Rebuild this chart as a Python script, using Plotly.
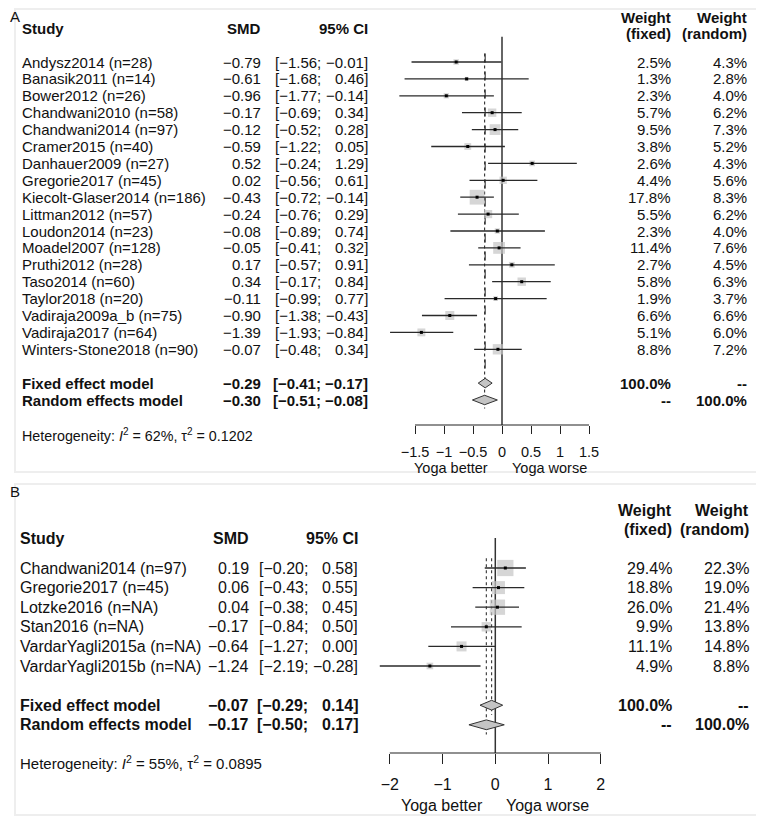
import math
import plotly.graph_objects as go

W, H = 764, 818
OFF = 8  # the page body margin shifts the figure by this much
FONT = "Liberation Sans, Arial, sans-serif"

# ---------------- panel A data ----------------
studies_a = ["Andysz2014 (n=28)", "Banasik2011 (n=14)", "Bower2012 (n=26)",
             "Chandwani2010 (n=58)", "Chandwani2014 (n=97)", "Cramer2015 (n=40)",
             "Danhauer2009 (n=27)", "Gregorie2017 (n=45)", "Kiecolt-Glaser2014 (n=186)",
             "Littman2012 (n=57)", "Loudon2014 (n=23)", "Moadel2007 (n=128)",
             "Pruthi2012 (n=28)", "Taso2014 (n=60)", "Taylor2018 (n=20)",
             "Vadiraja2009a_b (n=75)", "Vadiraja2017 (n=64)", "Winters-Stone2018 (n=90)"]
smd_a = [-0.79, -0.61, -0.96, -0.17, -0.12, -0.59, 0.52, 0.02, -0.43,
         -0.24, -0.08, -0.05, 0.17, 0.34, -0.11, -0.90, -1.39, -0.07]
lo_a = [-1.56, -1.68, -1.77, -0.69, -0.52, -1.22, -0.24, -0.56, -0.72,
        -0.76, -0.89, -0.41, -0.57, -0.17, -0.99, -1.38, -1.93, -0.48]
hi_a = [-0.01, 0.46, -0.14, 0.34, 0.28, 0.05, 1.29, 0.61, -0.14,
        0.29, 0.74, 0.32, 0.91, 0.84, 0.77, -0.43, -0.84, 0.34]
wfix_a = [2.5, 1.3, 2.3, 5.7, 9.5, 3.8, 2.6, 4.4, 17.8, 5.5, 2.3, 11.4, 2.7, 5.8, 1.9, 6.6, 5.1, 8.8]
wran_a = [4.3, 2.8, 4.0, 6.2, 7.3, 5.2, 4.3, 5.6, 8.3, 6.2, 4.0, 7.6, 4.5, 6.3, 3.7, 6.6, 6.0, 7.2]
pooled_est_a = [-0.29, -0.30]
pooled_lo_a = [-0.41, -0.51]
pooled_hi_a = [-0.17, -0.08]
i2_a, tau2_a = 62, 0.1202
ticks_a = [-1.5, -1, -0.5, 0, 0.5, 1, 1.5]

# ---------------- panel B data ----------------
studies_b = ["Chandwani2014 (n=97)", "Gregorie2017 (n=45)", "Lotzke2016 (n=NA)",
             "Stan2016 (n=NA)", "VardarYagli2015a (n=NA)", "VardarYagli2015b (n=NA)"]
smd_b = [0.19, 0.06, 0.04, -0.17, -0.64, -1.24]
lo_b = [-0.20, -0.43, -0.38, -0.84, -1.27, -2.19]
hi_b = [0.58, 0.55, 0.45, 0.50, 0.00, -0.28]
wfix_b = [29.4, 18.8, 26.0, 9.9, 11.1, 4.9]
wran_b = [22.3, 19.0, 21.4, 13.8, 14.8, 8.8]
pooled_est_b = [-0.07, -0.17]
pooled_lo_b = [-0.29, -0.50]
pooled_hi_b = [0.14, 0.17]
i2_b, tau2_b = 55, 0.0895
ticks_b = [-2, -1, 0, 1, 2]

pooled_labels = ["Fixed effect model", "Random effects model"]


def num(v, d=2):
    return f"{v:.{d}f}".replace("-", "\u2212")


def X(px):
    return (px - OFF) / W


def Y(py):
    return 1 - (py - OFF) / H


fig = go.Figure()
annotations = []
shapes = []


def panel(ax, data, cfg):
    studies, smd, lo, hi, wf, wr, pe, plo, phi, i2, tau2, ticks = data
    xa = "x" if ax == 1 else f"x{ax}"
    ya = "y" if ax == 1 else f"y{ax}"
    sfx = "" if ax == 1 else str(ax)
    r0, dr = cfg["row0"], cfg["drow"]
    x0, ux = cfg["x0"], cfg["ux"]
    fs = cfg["fs"]
    n = len(studies)
    rows = list(range(n))
    prow = [n + 1, n + 2]

    def row(py):
        return (py - r0) / dr

    ytop, ybot = cfg["ydom"]
    xl, xr = cfg["xdom"]
    axis_px = cfg["axis_px"]
    fig.layout[f"yaxis{sfx}"] = dict(
        domain=[Y(ybot), Y(ytop)], range=[row(ybot), row(ytop)],
        visible=False, fixedrange=True)
    fig.layout[f"xaxis{sfx}"] = dict(
        domain=[X(xl), X(xr)], range=[(xl - x0) / ux, (xr - x0) / ux],
        anchor="free", position=Y(axis_px), showgrid=False, zeroline=False, showline=False,
        tickvals=ticks,
        ticktext=[num(t, 0) if float(t).is_integer() else num(t, 1) for t in ticks],
        ticks="outside", ticklen=cfg["ticklen"], tickcolor="#222", tickwidth=1,
        ticklabelstandoff=cfg["standoff"],
        tickfont=dict(family=FONT, size=cfg["tickfs"], color="#111"), fixedrange=True)

    # axis line, no-effect line and pooled-effect lines
    shapes.append(dict(type="line", xref=xa, yref="paper", x0=ticks[0], x1=ticks[-1],
                       y0=Y(axis_px), y1=Y(axis_px), line=dict(color="#222", width=1.2)))
    fig.add_trace(go.Scatter(x=[0, 0], y=[cfg["zero_top"], row(axis_px)], xaxis=xa, yaxis=ya,
                             mode="lines", line=dict(color="#333", width=1.5), hoverinfo="skip"))
    for k, p in enumerate(pe):
        fig.add_trace(go.Scatter(x=[p, p], y=[-0.5, prow[k] + 0.5], xaxis=xa, yaxis=ya,
                                 mode="lines", line=dict(color="#333", width=1.1, dash=cfg["dash"][k]),
                                 hoverinfo="skip"))

    # squares, CI lines, dots
    fig.add_trace(go.Scatter(x=smd, y=rows, xaxis=xa, yaxis=ya, mode="markers",
                             marker=dict(symbol="square", color="#c4c4c4",
                                         size=[cfg["sq"] * math.sqrt(w) for w in wf],
                                         line=dict(width=0)), hoverinfo="skip"))
    lx, ly = [], []
    for r, a, b in zip(rows, lo, hi):
        lx += [a, b, None]
        ly += [r, r, None]
    fig.add_trace(go.Scatter(x=lx, y=ly, xaxis=xa, yaxis=ya, mode="lines",
                             line=dict(color="#2a2a2a", width=1.3), hoverinfo="skip"))
    fig.add_trace(go.Scatter(x=smd, y=rows, xaxis=xa, yaxis=ya, mode="markers",
                             marker=dict(symbol="square", color="#000", size=3), hoverinfo="skip"))

    # diamonds
    hh = cfg["dh"]
    for r, p, a, b in zip(prow, pe, plo, phi):
        fig.add_trace(go.Scatter(x=[a, p, b, p, a], y=[r, r - hh, r, r + hh, r], xaxis=xa, yaxis=ya,
                                 mode="lines", fill="toself", fillcolor="#c4c4c4",
                                 line=dict(color="#333", width=1), hoverinfo="skip"))

    def txt(x, y, s, anchor="left", bold=False, size=fs):
        if bold:
            s = f"<b>{s}</b>"
        annotations.append(dict(x=X(x), y=y, xref="paper", yref=ya, text=s, showarrow=False,
                                xanchor=anchor, yanchor="middle",
                                font=dict(family=FONT, size=size, color="#111")))

    cx = cfg["cols"]
    # headers
    txt(cx["study"], cfg["head_row"], "Study", bold=True)
    txt(cx["smd"], cfg["head_row"], "SMD", "right", bold=True)
    txt(cx["cihi"], cfg["head_row"], "95% CI", "right", bold=True)
    txt(cx["wf"], row(cfg["w_px1"]), "Weight", "right", bold=True)
    txt(cx["wf"], row(cfg["w_px2"]), "(fixed)", "right", bold=True)
    txt(cx["wr"], row(cfg["w_px1"]), "Weight", "right", bold=True)
    txt(cx["wr"], row(cfg["w_px2"]), "(random)", "right", bold=True)

    for r, s, m, a, b, f, q in zip(rows, studies, smd, lo, hi, wf, wr):
        txt(cx["study"], r, s)
        txt(cx["smd"], r, num(m), "right")
        txt(cx["cilo"], r, f"[{num(a)};", "right")
        txt(cx["cihi"], r, f"{num(b)}]", "right")
        txt(cx["wf"], r, f"{f:.1f}%", "right")
        txt(cx["wr"], r, f"{q:.1f}%", "right")

    wlab = [("100.0%", "--"), ("--", "100.0%")]
    for k, r in enumerate(prow):
        txt(cx["study"], r, pooled_labels[k], bold=True)
        txt(cx["smd"], r, num(pe[k]), "right", bold=True)
        txt(cx["cilo"], r, f"[{num(plo[k])};", "right", bold=True)
        txt(cx["cihi"], r, f"{num(phi[k])}]", "right", bold=True)
        txt(cx["wf"], r, wlab[k][0], "right", bold=True)
        txt(cx["wr"], r, wlab[k][1], "right", bold=True)

    txt(cx["study"], row(cfg["het_px"]),
        f"Heterogeneity: <i>I</i><sup>2</sup> = {i2}%, \u03c4<sup>2</sup> = {tau2}",
        size=cfg["hetfs"])

    # direction labels under the axis
    lab_y = row(cfg["lab_px"])
    annotations.append(dict(x=cfg["lab_l"], y=lab_y, xref=xa, yref=ya, text="Yoga better",
                            showarrow=False, xanchor="right", yanchor="middle",
                            font=dict(family=FONT, size=cfg["tickfs"], color="#111")))
    annotations.append(dict(x=cfg["lab_r"], y=lab_y, xref=xa, yref=ya, text="Yoga worse",
                            showarrow=False, xanchor="left", yanchor="middle",
                            font=dict(family=FONT, size=cfg["tickfs"], color="#111")))


cfg_a = dict(row0=62, drow=16.9, x0=502, ux=58, fs=15, ydom=(8, 478), xdom=(375, 620),
             axis_px=425, ticklen=8, standoff=6, tickfs=14.5, zero_top=-1.5, sq=3.5, dh=0.28,
             dash=["dash", "dot"],
             cols=dict(study=20, smd=263, cilo=323, cihi=370, wf=673, wr=749),
             head_row=-2, w_px1=17, w_px2=33,
             het_px=435, hetfs=14.3, lab_px=468, lab_l=-0.2, lab_r=0.14)
cfg_b = dict(row0=568, drow=19.6, x0=495.3, ux=52.75, fs=16, ydom=(484, 818), xdom=(375, 620),
             axis_px=753, ticklen=10, standoff=7, tickfs=16, zero_top=-1.53, sq=3.0, dh=0.25,
             dash=["dot", "dot"],
             cols=dict(study=18, smd=251, cilo=310, cihi=360, wf=674, wr=751),
             head_row=-1.53, w_px1=510, w_px2=529,
             het_px=762, hetfs=15, lab_px=805, lab_l=-0.2, lab_r=0.165)

panel(1, (studies_a, smd_a, lo_a, hi_a, wfix_a, wran_a, pooled_est_a, pooled_lo_a,
          pooled_hi_a, i2_a, tau2_a, ticks_a), cfg_a)
panel(2, (studies_b, smd_b, lo_b, hi_b, wfix_b, wran_b, pooled_est_b, pooled_lo_b,
          pooled_hi_b, i2_b, tau2_b, ticks_b), cfg_b)

# panel letters and faint frames
for lab, px, py in [("A", 8, 17), ("B", 8, 491)]:
    annotations.append(dict(x=X(px), y=Y(py), xref="paper", yref="paper", text=lab,
                            showarrow=False, xanchor="left", yanchor="middle",
                            font=dict(family=FONT, size=15, color="#111")))
for (t, b) in [(9, 472), (484, 815)]:
    shapes.append(dict(type="rect", xref="paper", yref="paper", x0=X(15), x1=X(758),
                       y0=Y(b), y1=Y(t), line=dict(color="#eeeeee", width=2), layer="below"))

fig.update_layout(width=W, height=H, margin=dict(l=0, r=0, t=0, b=0), autosize=False,
                  plot_bgcolor="white", paper_bgcolor="white", showlegend=False,
                  annotations=annotations, shapes=shapes)

fig.write_html("out.html")
